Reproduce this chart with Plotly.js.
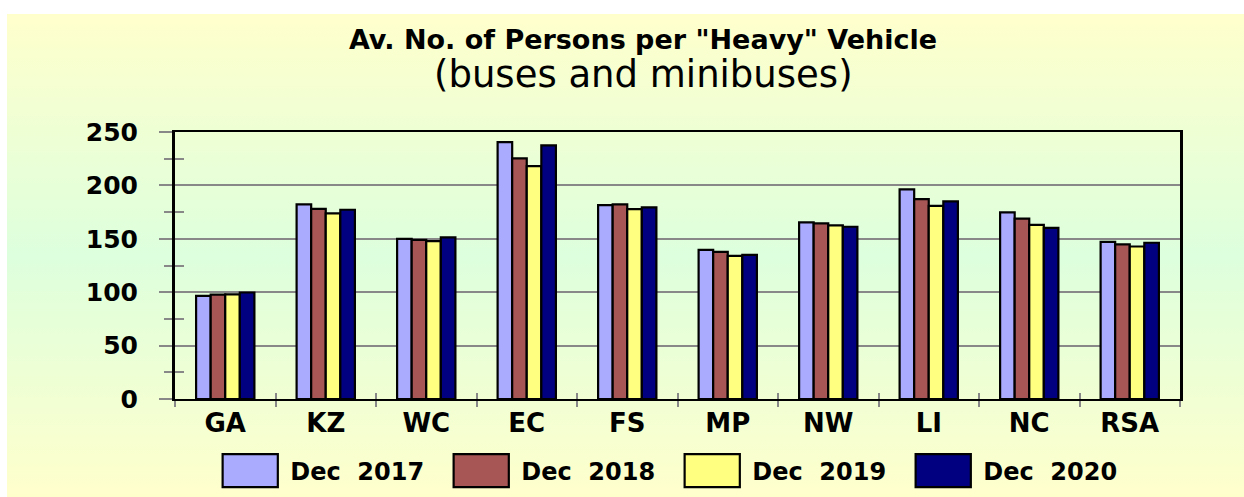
<!DOCTYPE html>
<html><head><meta charset="utf-8">
<script src="https://cdn.plot.ly/plotly-3.0.1.min.js"></script>
<style>
html,body{margin:0;padding:0;background:#fff;}
#chart{width:1244px;height:497px;background-color:#fff;
  background-image:linear-gradient(#FFFFCC 0%, #DDFFDD 50%, #FFFFCC 100%);
  background-repeat:no-repeat;background-position:7px 14px;background-size:1237px 483px;}
.legendpoints path{transform:translate(30px,0px) scale(4.6,2.75) !important;vector-effect:non-scaling-stroke;}
</style></head><body><div id="chart"></div>
<script>
const categories = ["GA","KZ","WC","EC","FS","MP","NW","LI","NC","RSA"];
const seriesNames = ["Dec\u00a0 2017","Dec\u00a0 2018","Dec\u00a0 2019","Dec\u00a0 2020"];
const dec2017 = [96.5, 182.2, 150.0, 240.6, 181.6, 139.7, 165.3, 196.3, 174.7, 147.2];
const dec2018 = [97.8, 178.1, 149.0, 225.3, 182.2, 137.8, 164.4, 187.2, 168.8, 144.7];
const dec2019 = [98.0, 173.8, 147.8, 218.1, 177.8, 134.1, 162.5, 180.9, 163.1, 142.8];
const dec2020 = [99.7, 177.2, 151.3, 237.5, 179.4, 135.0, 161.3, 185.0, 160.3, 146.3];
const yTicks = [0, 50, 100, 150, 200, 250];
const titleText = 'Av. No. of Persons per "Heavy" Vehicle';
const subtitleText = "(buses and minibuses)";

const colors = ["#AAAAFF", "#A85555", "#FFFF80", "#000080"];
const values = [dec2017, dec2018, dec2019, dec2020];

const FONT = "DejaVu Sans, Liberation Sans, Arial, sans-serif";

const traces = values.map((v, i) => ({
  type: "bar", x: categories, y: v, name: seriesNames[i],
  marker: {color: colors[i], line: {color: "#000", width: 2.2}},
  hoverinfo: "x+y+name"
}));
// invisible helper trace for inner halves of crossing ticks
traces.push({type: "scatter", mode: "none", x: categories, y: categories.map(() => null),
  xaxis: "x2", yaxis: "y2", showlegend: false, hoverinfo: "skip"});

const layout = {
  width: 1244, height: 497,
  paper_bgcolor: "rgba(0,0,0,0)", plot_bgcolor: "rgba(0,0,0,0)",
  margin: {l: 175, r: 64, t: 132, b: 98, autoexpand: false},
  font: {family: FONT, color: "#000"},
  title: {
    text: "<b>" + titleText + "</b>",
    font: {family: FONT, size: 27, color: "#000"},
    x: 643 / 1244, xanchor: "center", xref: "container",
    y: 1 - 40 / 497, yanchor: "middle", yref: "container"
  },
  annotations: [{
    text: subtitleText, xref: "paper", yref: "paper", x: (643 - 175) / 1005, y: 1 + (132 - 75) / 267,
    xanchor: "center", yanchor: "middle", showarrow: false,
    font: {family: FONT, size: 37, color: "#000"}
  }],
  barmode: "group", bargap: 0.42, bargroupgap: 0,
  xaxis: {
    type: "category", categoryarray: categories, range: [-0.5, 9.5],
    showline: true, linecolor: "#000", linewidth: 2, mirror: true,
    ticks: "outside", tickson: "boundaries", ticklen: 6, tickwidth: 2, tickcolor: "#888",
    ticklabelstandoff: 0,
    tickfont: {family: FONT, size: 26, color: "#000", weight: "bold"},
    showgrid: false, zeroline: false, fixedrange: true
  },
  yaxis: {
    range: [0, 250], tickvals: yTicks, ticktext: yTicks.map(String),
    showline: true, linecolor: "#000", linewidth: 3, mirror: true,
    ticks: "outside", ticklen: 13, tickwidth: 2, tickcolor: "#888",
    ticklabelstandoff: 16,
    minor: {dtick: 25, tick0: 0, ticks: "outside", ticklen: 8, tickwidth: 2, tickcolor: "#888", showgrid: false},
    showgrid: true, gridcolor: "#888", gridwidth: 2, zeroline: false,
    tickfont: {family: FONT, size: 25, color: "#000", weight: "bold"},
    fixedrange: true
  },
  xaxis2: {
    type: "category", categoryarray: categories, range: [-0.5, 9.5],
    overlaying: "x", anchor: "y2", side: "bottom",
    ticks: "inside", tickson: "boundaries", ticklen: 6, tickwidth: 2, tickcolor: "#888",
    showticklabels: false, showline: false, showgrid: false, zeroline: false, fixedrange: true
  },
  yaxis2: {
    range: [0, 250], overlaying: "y", anchor: "x2", side: "left",
    tickvals: yTicks, ticks: "inside", ticklen: 15, tickwidth: 2, tickcolor: "#888",
    minor: {dtick: 25, tick0: 0, ticks: "inside", ticklen: 9, tickwidth: 2, tickcolor: "#888", showgrid: false},
    showticklabels: false, showline: false, showgrid: false, zeroline: false, fixedrange: true
  },
  showlegend: true,
  legend: {
    orientation: "h", x: 0.045, xanchor: "left", xref: "paper",
    y: 1 - 471 / 497, yanchor: "middle", yref: "container",
    itemwidth: 60, entrywidth: 156, entrywidthmode: "pixels",
    font: {family: FONT, size: 24, color: "#000", weight: "bold"},
    bgcolor: "rgba(0,0,0,0)", borderwidth: 0, traceorder: "normal"
  }
};

Plotly.newPlot("chart", traces, layout, {displayModeBar: false});
</script></body></html>
